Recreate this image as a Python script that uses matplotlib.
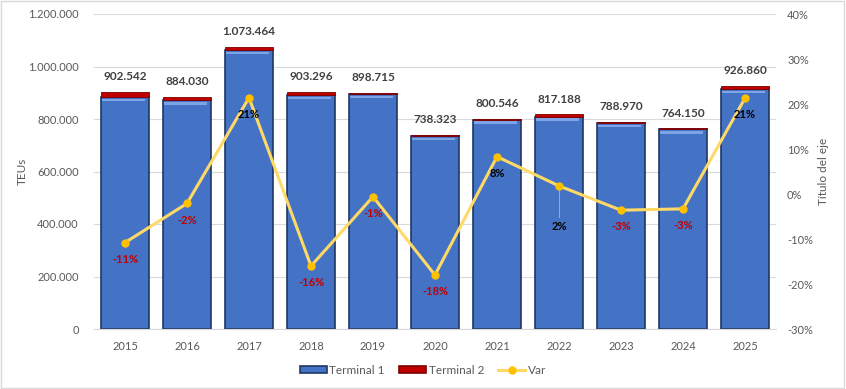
import matplotlib.pyplot as plt
import numpy as np
from matplotlib.patches import Rectangle
from matplotlib.lines import Line2D
from matplotlib.ticker import FuncFormatter

plt.rcParams["font.family"] = ["Lato", "DejaVu Sans"]

years = ["2015", "2016", "2017", "2018", "2019", "2020", "2021", "2022", "2023", "2024", "2025"]
totals = [902542, 884030, 1073464, 903296, 898715, 738323, 800546, 817188, 788970, 764150, 926860]
terminal2 = [19000, 13000, 10000, 11000, 4000, 3000, 2500, 8000, 5000, 4000, 12000]
var = [-11, -2, 21, -16, -1, -18, 8, 2, -3, -3, 21]
var_pos = [-10.8, -2.1, 21.4, -16.0, -0.6, -18.0, 8.3, 1.8, -3.6, -3.3, 21.3]

terminal1 = [t - t2 for t, t2 in zip(totals, terminal2)]

blue = "#4472C4"
blue_dark = "#1F3864"
blue_light = "#7EA4E6"
red = "#C00000"
yellow = "#FFD966"
gray_txt = "#595959"
grid_c = "#D9D9D9"

fig = plt.figure(figsize=(8.46, 3.89), dpi=100)
ax = fig.add_axes([94 / 846, 1 - 329 / 389, (776 - 94) / 846, (329 - 14) / 389])
ax2 = ax.twinx()

x = np.arange(len(years))
w = 0.79

ax.bar(x, terminal1, w, color=blue, edgecolor=blue_dark, linewidth=1.2, zorder=2)
# bevel highlight at the top of each bar
ax.bar(x - 0.02, [9000] * len(x), w - 0.1, bottom=[t - 16000 for t in terminal1],
       color=blue_light, linewidth=0, zorder=3)
ax.bar(x, terminal2, w, bottom=terminal1, color=red, edgecolor="#7F0000",
       linewidth=0.6, zorder=2)

for xi, t in zip(x, totals):
    ax.annotate(f"{t:,}".replace(",", "."), (xi, t), xytext=(0, 11),
                textcoords="offset points", ha="center", va="center",
                fontsize=8.5, fontweight="bold", color="#404040")

ax.set_ylim(0, 1200000)
ax.set_yticks(np.arange(0, 1200001, 200000))
ax.yaxis.set_major_formatter(FuncFormatter(lambda v, p: f"{int(v):,}".replace(",", ".")))
ax.set_xlim(-0.5, len(years) - 0.5)
ax.set_xticks(x)
ax.set_xticklabels(years)
ax.grid(axis="y", color=grid_c, linewidth=0.8, zorder=0)
ax.set_axisbelow(True)
ax.set_ylabel("TEUs", color=gray_txt, fontsize=8.5)
ax.yaxis.set_label_coords(-0.097, 0.5)

ax2.plot(x, var_pos, color=yellow, linewidth=2.2, marker="o", markersize=5,
         markerfacecolor="#FFC000", markeredgecolor="#FFC000", zorder=5)
ax2.set_ylim(-30, 40)
ax2.set_yticks(np.arange(-30, 41, 10))
ax2.yaxis.set_major_formatter(FuncFormatter(lambda v, p: f"{int(v)}%"))
ax2.set_ylabel("Título del eje", color=gray_txt, fontsize=8.5)
ax2.yaxis.set_label_coords(1.062, 0.5)

for xi, v, p in zip(x, var, var_pos):
    c = red if v < 0 else "black"
    if years[xi] == "2022":
        ax2.plot([xi, xi], [p - 1, p - 7], color="#A6A6A6", linewidth=0.8, zorder=4)
        ax2.text(xi, p - 9.1, f"{v}%", ha="center", va="center", fontsize=8,
                 fontweight="bold", color=c, zorder=6)
    else:
        ax2.annotate(f"{v}%", (xi, p), xytext=(0, -12), textcoords="offset points",
                     ha="center", va="center", fontsize=8, fontweight="bold",
                     color=c, zorder=6)

for a in (ax, ax2):
    for s in a.spines.values():
        s.set_visible(False)
    a.tick_params(length=0, colors=gray_txt, labelsize=8)
ax.spines["bottom"].set_visible(True)
ax.spines["bottom"].set_color(grid_c)
ax.tick_params(axis="x", pad=9)
ax.tick_params(axis="y", pad=11)
ax2.tick_params(axis="y", pad=8)

handles = [
    Rectangle((0, 0), 1, 1, facecolor=blue, edgecolor=blue_dark, linewidth=1.2),
    Rectangle((0, 0), 1, 1, facecolor=red, edgecolor="#7F0000", linewidth=1.2),
    Line2D([0], [0], color=yellow, linewidth=2.2, marker="o", markersize=5,
           markerfacecolor="#FFC000", markeredgecolor="#FFC000"),
]
fig.legend(handles, ["Terminal 1", "Terminal 2", "Var"], loc="center",
           bbox_to_anchor=(0.5, 1 - 370 / 389), ncol=3, frameon=False,
           fontsize=8.5, labelcolor=gray_txt, handlelength=2.3, handleheight=0.6,
           columnspacing=1.2, handletextpad=0.2)

fig.patches.append(Rectangle((0.001, 0.002), 0.997, 0.995, transform=fig.transFigure,
                             fill=False, edgecolor="#D9D9D9", linewidth=1))

fig.savefig("out.png", dpi=100)
